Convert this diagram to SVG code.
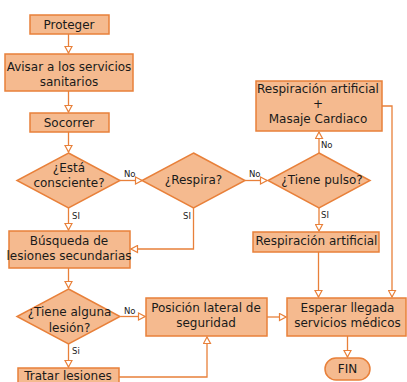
<svg xmlns="http://www.w3.org/2000/svg" width="407" height="382" viewBox="0 0 407 382">
<defs>
<marker id="ah" markerUnits="userSpaceOnUse" markerWidth="9" markerHeight="9" viewBox="0 0 9 9" refX="8" refY="4.5" orient="auto">
<path d="M1.5,1 L8,4.5 L1.5,8 Z" fill="#fff" stroke="#E8803A" stroke-width="1.2"/>
</marker>
</defs>
<style>
.b{fill:#F5BA8F;stroke:#E8803A;stroke-width:1.5}
.t{font-family:"DejaVu Sans",Verdana,sans-serif;font-size:12px;fill:#1a1a1a;text-anchor:middle}
.l{font-family:"DejaVu Sans",Verdana,sans-serif;font-size:8.5px;fill:#1a1a1a}
.c{fill:none;stroke:#E8803A;stroke-width:1.3}
</style>
<rect width="407" height="382" fill="#fff"/>
<g id="connectors">
<path class="c" d="M68.5,34 V53" marker-end="url(#ah)"/>
<path class="c" d="M68.5,91 V112" marker-end="url(#ah)"/>
<path class="c" d="M68.5,132 V152" marker-end="url(#ah)"/>
<path class="c" d="M120,180.5 H142" marker-end="url(#ah)"/>
<path class="c" d="M68.5,208 V230" marker-end="url(#ah)"/>
<path class="c" d="M193.5,208 V249 H131" marker-end="url(#ah)"/>
<path class="c" d="M245,180.5 H267" marker-end="url(#ah)"/>
<path class="c" d="M319,153 V132" marker-end="url(#ah)"/>
<path class="c" d="M319,208 V231" marker-end="url(#ah)"/>
<path class="c" d="M382,106 H392 V297" marker-end="url(#ah)"/>
<path class="c" d="M318.5,252 V297" marker-end="url(#ah)"/>
<path class="c" d="M68.5,268 V288" marker-end="url(#ah)"/>
<path class="c" d="M120.5,316.5 H145" marker-end="url(#ah)"/>
<path class="c" d="M68.5,344 V367" marker-end="url(#ah)"/>
<path class="c" d="M119,377 H207 V337" marker-end="url(#ah)"/>
<path class="c" d="M267,317 H286" marker-end="url(#ah)"/>
<path class="c" d="M347.5,336 V357" marker-end="url(#ah)"/>
<text class="l" x="124" y="177">No</text>
<text class="l" x="72" y="219">SI</text>
<text class="l" x="183" y="219">SI</text>
<text class="l" x="249" y="177">No</text>
<text class="l" x="321" y="148">No</text>
<text class="l" x="321" y="218">SI</text>
<text class="l" x="124" y="314">No</text>
<text class="l" x="72" y="354">Si</text>
</g>
<g id="proteger">
<rect class="b" x="30" y="15" width="79" height="19"/>
<text class="t" x="69" y="29">Proteger</text>
</g>
<g id="avisar">
<rect class="b" x="5" y="54" width="128" height="37"/>
<text class="t" x="69" y="71">Avisar a los servicios</text>
<text class="t" x="69" y="86">sanitarios</text>
</g>
<g id="socorrer">
<rect class="b" x="30" y="113" width="79" height="19"/>
<text class="t" x="69" y="127">Socorrer</text>
</g>
<g id="consciente">
<polygon class="b" points="68.5,153 120,180.5 68.5,208 17,180.5"/>
<text class="t" x="69" y="172">¿Está</text>
<text class="t" x="69" y="187">consciente?</text>
</g>
<g id="respira">
<polygon class="b" points="193.5,153 245,180.5 193.5,208 142,180.5"/>
<text class="t" x="193.5" y="184">¿Respira?</text>
</g>
<g id="pulso">
<polygon class="b" points="319,153 370,180.5 319,208 268,180.5"/>
<text class="t" x="322" y="184">¿Tiene pulso?</text>
</g>
<g id="rcp">
<rect class="b" x="256" y="81" width="126" height="50"/>
<text class="t" x="318" y="93">Respiración artificial</text>
<text class="t" x="318" y="108">+</text>
<text class="t" x="318" y="123">Masaje Cardiaco</text>
</g>
<g id="respiracion">
<rect class="b" x="253" y="232" width="126" height="20"/>
<text class="t" x="316.5" y="245">Respiración artificial</text>
</g>
<g id="busqueda">
<rect class="b" x="9" y="231" width="121" height="37"/>
<text class="t" x="69" y="245">Búsqueda de</text>
<text class="t" x="69" y="260">lesiones secundarias</text>
</g>
<g id="lesion">
<polygon class="b" points="68.5,289 120,316.5 68.5,344 17,316.5"/>
<text class="t" x="69.5" y="316">¿Tiene alguna</text>
<text class="t" x="69.5" y="332">lesión?</text>
</g>
<g id="tratar">
<rect class="b" x="18" y="368" width="101" height="20"/>
<text class="t" x="68" y="379.5">Tratar lesiones</text>
</g>
<g id="posicion">
<rect class="b" x="146" y="298" width="121" height="38"/>
<text class="t" x="206" y="312">Posición lateral de</text>
<text class="t" x="206" y="327">seguridad</text>
</g>
<g id="esperar">
<rect class="b" x="287" y="298" width="119" height="38"/>
<text class="t" x="347.5" y="312">Esperar llegada</text>
<text class="t" x="347.5" y="327">servicios médicos</text>
</g>
<g id="fin">
<rect class="b" x="325" y="358" width="45" height="22" rx="11"/>
<text class="t" x="347.5" y="373">FIN</text>
</g>
</svg>
